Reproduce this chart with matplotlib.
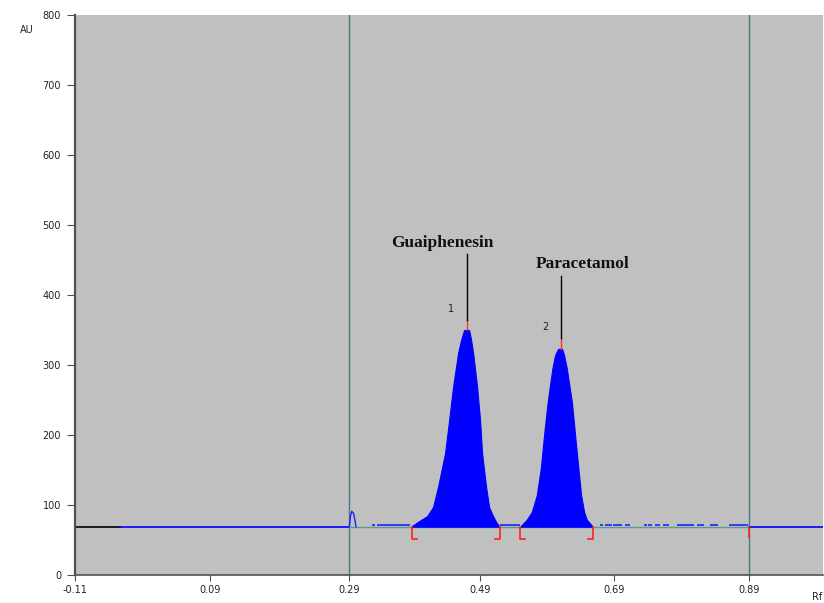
import numpy as np
import matplotlib.pyplot as plt

# densitogram data (Rf, AU)
baseline_au = 69
noise_au = 71

peak1_rf = [0.3887, 0.3976, 0.4109, 0.4198, 0.4272, 0.4376, 0.4436, 0.4495, 0.4569, 0.4614, 0.4658,
            0.4732, 0.4762, 0.4792, 0.4851, 0.4895, 0.4925, 0.4984, 0.5029, 0.5088, 0.5132, 0.5177]
peak1_au = [70, 76, 84, 97, 126, 174, 221, 269, 317, 336, 350,
            350, 336, 317, 269, 221, 174, 126, 97, 84, 76, 70]

peak2_rf = [0.5499, 0.5588, 0.5662, 0.5736, 0.5795, 0.5844, 0.5899, 0.5967, 0.6007, 0.6052,
            0.6111, 0.6141, 0.6181, 0.6255, 0.6304, 0.6353, 0.6393, 0.6438, 0.6478, 0.6567]
peak2_au = [70, 79, 90, 114, 152, 200, 248, 295, 314, 323,
            323, 314, 295, 248, 200, 152, 114, 90, 79, 69]

blip_rf = [0.2957, 0.2975, 0.2992, 0.3020, 0.3040, 0.3056]
blip_au = [69, 85, 91, 88, 78, 69]

noise_start = [0.329, 0.336, 0.519, 0.668, 0.675, 0.687, 0.705, 0.732, 0.739, 0.749,
               0.761, 0.781, 0.811, 0.831, 0.858]
noise_end = [0.333, 0.386, 0.548, 0.672, 0.685, 0.700, 0.712, 0.737, 0.744, 0.756,
             0.769, 0.806, 0.821, 0.843, 0.887]

brackets_left = [0.3887, 0.5488]
brackets_right = [0.5192, 0.6567]
bracket_bottom = 52

track_lines = [0.2957, 0.8889]

peak_names = ['Guaiphenesin', 'Paracetamol']
peak_nums = ['1', '2']
peak_pos = [0.4697, 0.6096]
peak_top = [350, 323]
marker_top = [364, 339]
stem_top = [459, 427]
name_pos = [(0.434, 474), (0.642, 444)]
num_pos = [(0.4465, 380), (0.587, 354)]

# tick positions as they sit on the scanner's axis, with its rounded labels
xtick_pos = [-0.1111, 0.0891, 0.2957, 0.4895, 0.6882, 0.8889]
xtick_labels = ['-0.11', '0.09', '0.29', '0.49', '0.69', '0.89']
yticks = [0, 100, 200, 300, 400, 500, 600, 700, 800]

fig = plt.figure(figsize=(8.24, 6.03), dpi=100)
ax = fig.add_axes([75 / 824, 1 - 575 / 603, 748 / 824, 560 / 603])
ax.set_facecolor('#c0c0c0')
ax.set_xlim(-0.1111, 0.998)
ax.set_ylim(0, 800)

# track boundaries
for x in track_lines:
    ax.axvline(x, color='#3a8080', lw=1.0, zorder=1)

# baselines
ax.plot([-0.1111, -0.044], [baseline_au, baseline_au], color='black', lw=1.2, zorder=2)
ax.plot([-0.044, track_lines[0]], [baseline_au, baseline_au], color='#0000ff', lw=1.2, zorder=2)
ax.plot(track_lines, [baseline_au, baseline_au], color='#5a9a88', lw=1.0, zorder=2)
ax.plot([track_lines[1], 0.998], [baseline_au, baseline_au], color='#0000ff', lw=1.2, zorder=2)

ax.plot(blip_rf, blip_au, color='#2020ff', lw=1.0, zorder=3)
ax.hlines([noise_au] * len(noise_start), noise_start, noise_end, color='#2020ff', lw=1.2, zorder=3)

# peaks
ax.fill_between(peak1_rf, baseline_au, peak1_au, color='#0000ff', lw=0.8, zorder=4)
ax.fill_between(peak2_rf, baseline_au, peak2_au, color='#0000ff', lw=0.8, zorder=4)

# integration brackets
blen = 0.0074
for x in brackets_left:
    ax.plot([x, x, x + blen], [baseline_au, bracket_bottom, bracket_bottom], color='#ff2020', lw=1.2, zorder=5)
for x in brackets_right:
    ax.plot([x, x, x - blen], [baseline_au, bracket_bottom, bracket_bottom], color='#ff2020', lw=1.2, zorder=5)
ax.plot([track_lines[1], track_lines[1]], [baseline_au, 54], color='#ff2020', lw=1.2, zorder=5)

# peak labels
for i in range(2):
    ax.plot([peak_pos[i], peak_pos[i]], [peak_top[i], marker_top[i]], color='#ff3030', lw=1.0, zorder=5)
    ax.plot([peak_pos[i], peak_pos[i]], [marker_top[i], stem_top[i]], color='black', lw=1.0, zorder=5)
    ax.text(name_pos[i][0], name_pos[i][1], peak_names[i], ha='center', va='center',
            family='Liberation Serif', fontweight='bold', fontsize=12.5, color='#111111')
    ax.text(num_pos[i][0], num_pos[i][1], peak_nums[i], ha='center', va='center',
            fontsize=7, color='#222222')

ax.set_xticks(xtick_pos)
ax.set_xticklabels(xtick_labels)
ax.set_yticks(yticks)
ax.tick_params(axis='both', labelsize=7, color='#505050', labelcolor='#222222')
ax.tick_params(axis='y', length=6, pad=4)
ax.tick_params(axis='x', length=4, pad=3)

for s in ['top', 'right']:
    ax.spines[s].set_visible(False)
ax.spines['left'].set_color('#505050')
ax.spines['left'].set_linewidth(1.6)
ax.spines['bottom'].set_color('#505050')
ax.spines['bottom'].set_linewidth(1.2)

fig.text(20 / 824, 1 - 30 / 603, 'AU', fontsize=7, ha='left', va='center', color='#222222')
fig.text(812 / 824, 1 - 597 / 603, 'Rf', fontsize=7, ha='left', va='center', color='#222222')

fig.savefig('out.png', dpi=100)
